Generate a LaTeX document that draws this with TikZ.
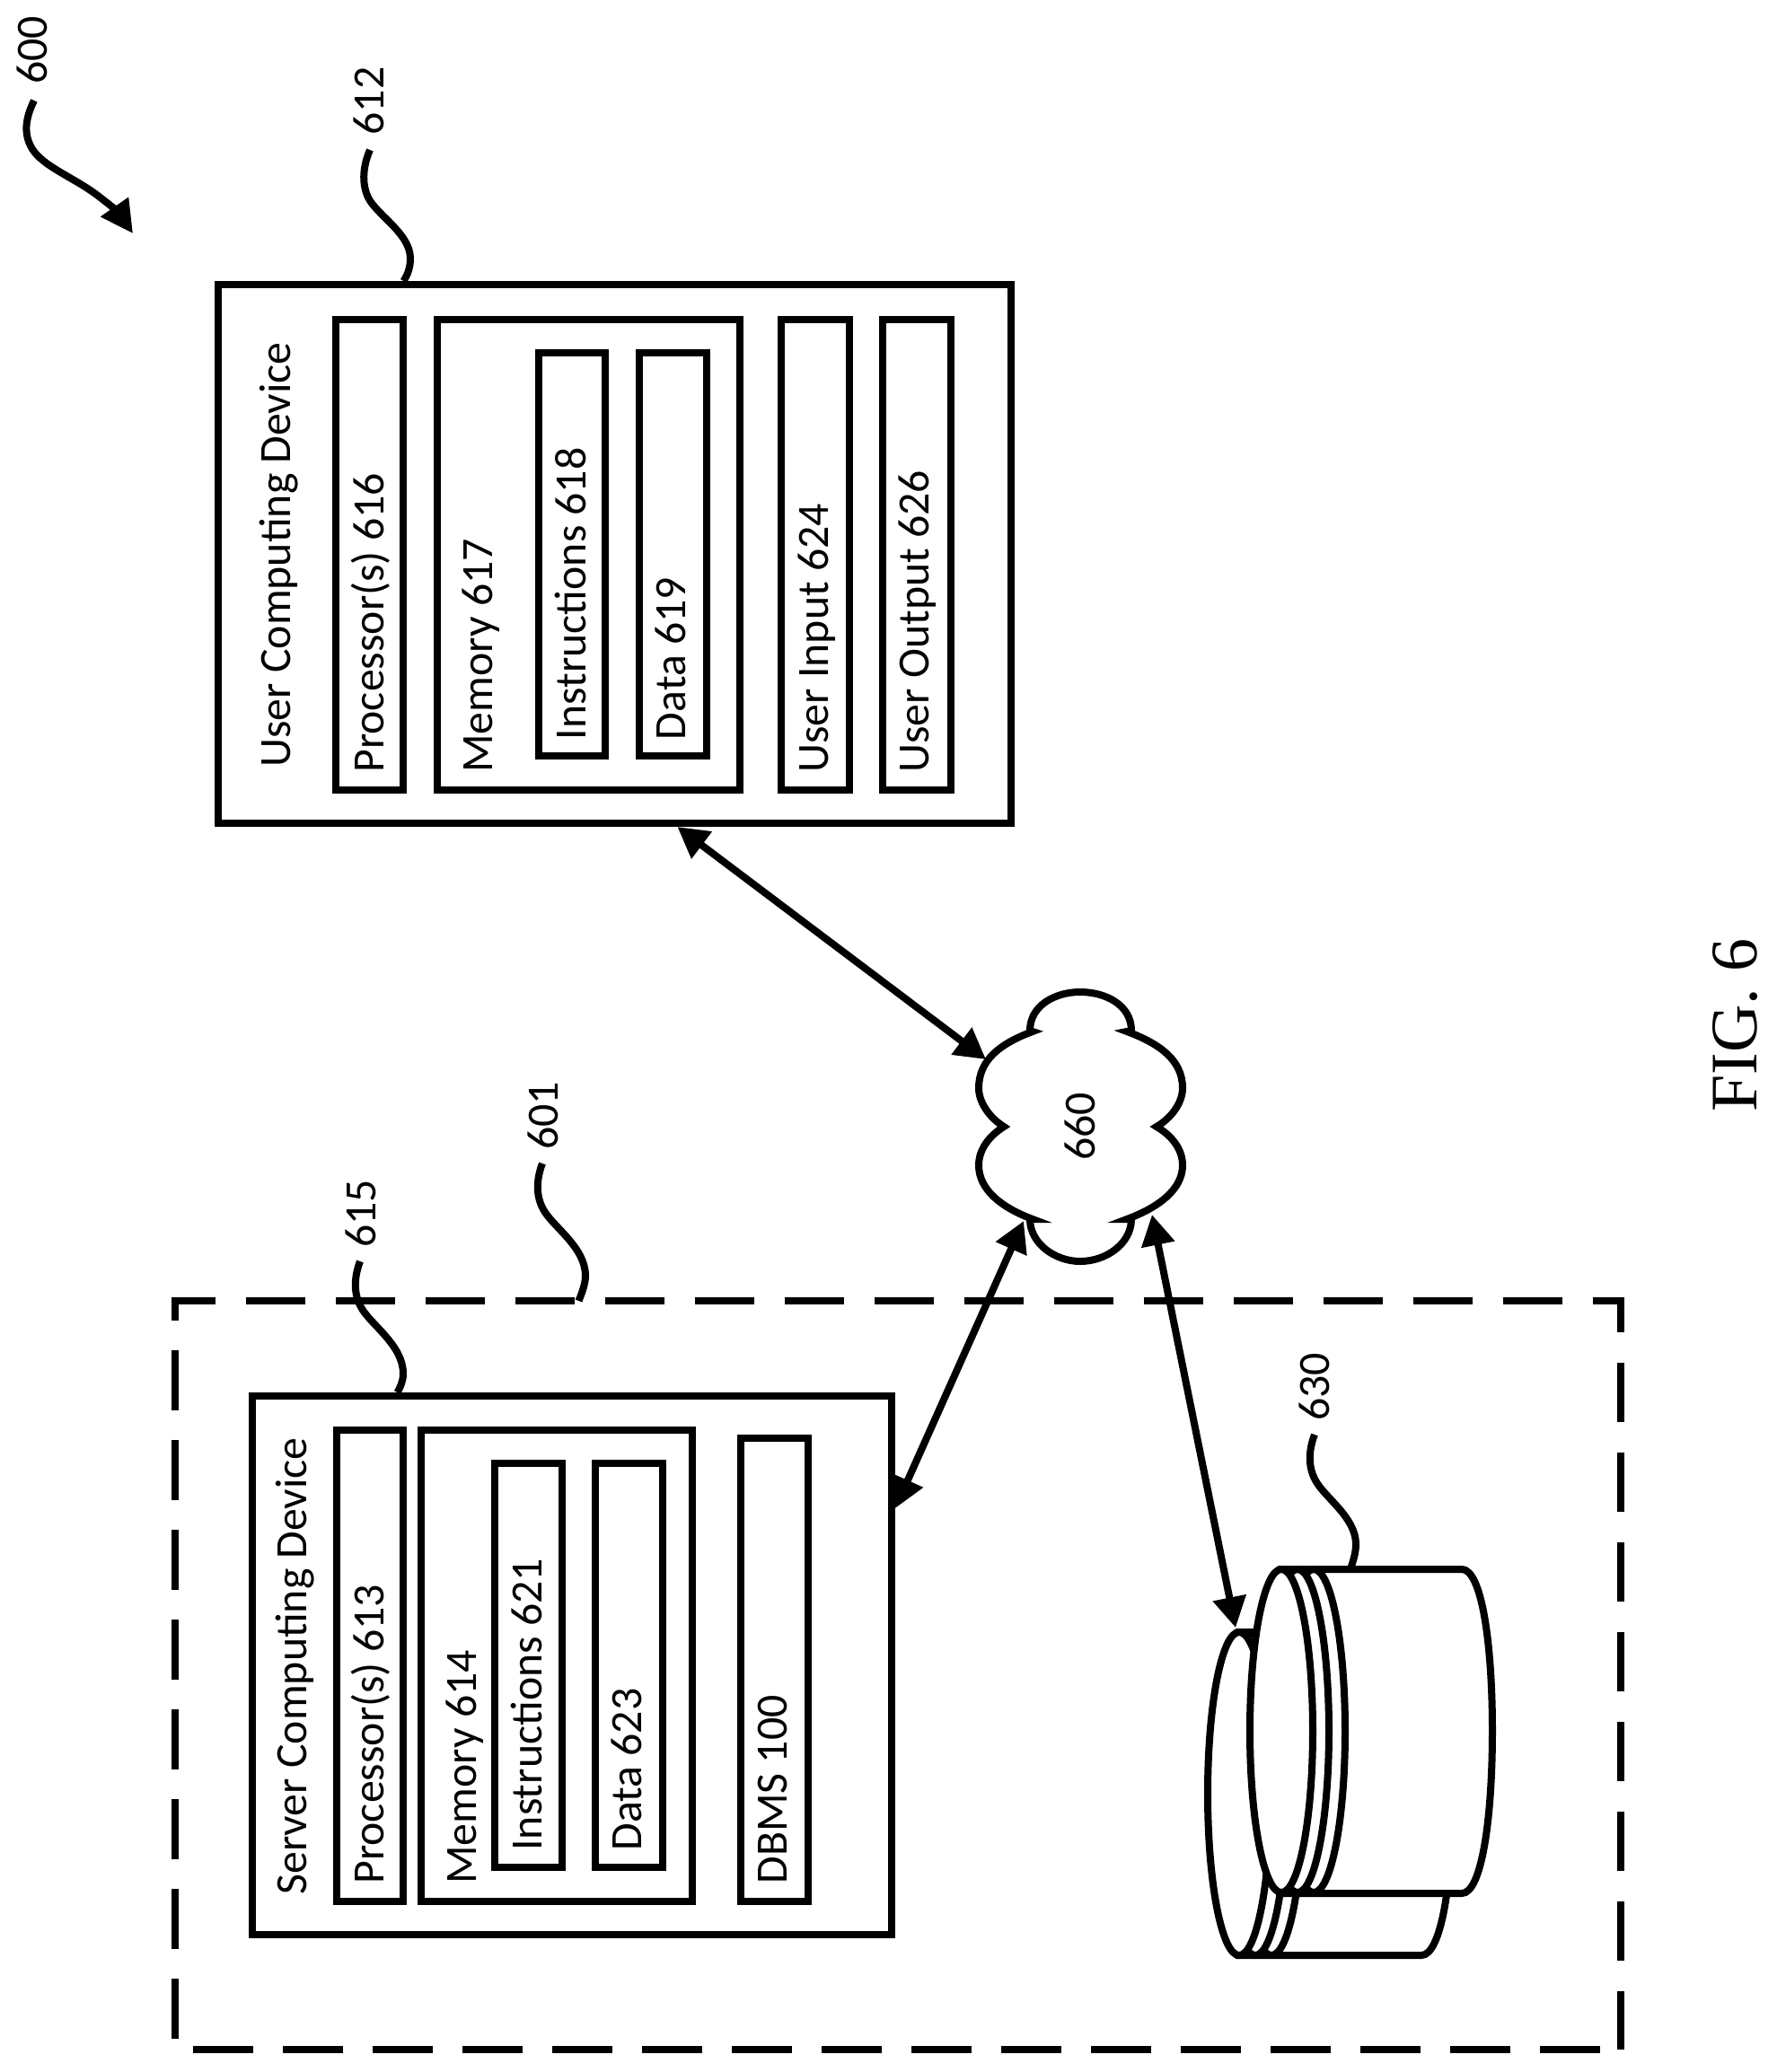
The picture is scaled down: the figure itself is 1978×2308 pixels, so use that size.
\documentclass[tikz,border=0pt]{standalone}
\usepackage{fontspec}
\setmainfont{Carlito}
\newfontfamily\figfont{Liberation Serif}
\usetikzlibrary{arrows.meta,calc,fit}
\tikzset{
  x=0.5pt,y=-0.5pt,
  box/.style={draw=black,line width=4pt,fill=white,inner sep=0pt,line join=miter},
  lbl/.style={rotate=90,anchor=base west,inner sep=0pt,font=\fontsize{24.9}{25}\selectfont},
  num/.style={rotate=90,inner sep=0pt,font=\fontsize{24.9}{25}\selectfont},
  lead/.style={draw=black,line width=4pt},
  link/.style={draw=black,line width=4pt,{Triangle[length=17pt,width=18pt]}-{Triangle[length=17pt,width=18pt]}},
  shell/.style={draw=black,line width=4pt,fill=white},
  dashline/.style={draw=black,line width=4pt,dash pattern=on 33.4pt off 16.6pt},
}
\begin{document}
\begin{tikzpicture}
\useasboundingbox (0,0) rectangle (1978,2308);
% dashed system boundary
\node[inner sep=0pt,outer sep=0pt,fit={(194.5,1449)(1805,2283)}] (sys) {};
\draw[dashline] ($(sys.north west)+(0,21)$) -- (sys.north west) -- (sys.north east) -- (sys.south east);
\draw[dashline,dash phase=38.5pt] (sys.south east) -- (sys.south west) -- ($(sys.north west)+(0,21)$);
% user computing device
\node[box,fit={(243.4,317)(1126,917)}] (user) {};
\node[box,fit={(374.4,355.5)(449,880)}] (p616) {};
\node[box,fit={(486.8,355.5)(824,880)}] (m617) {};
\node[box,fit={(599.8,392.6)(674,842)}] (i618) {};
\node[box,fit={(712,392.6)(787,842)}] (d619) {};
\node[box,fit={(870,355.5)(946,880)}] (in624) {};
\node[box,fit={(983,355.5)(1059,880)}] (out626) {};
\node[lbl] (tUser) at (323.8,855) {User Computing Device};
\node[lbl] (t616) at (427,861) {Processor(s) 616};
\node[lbl] (t617) at (548.8,861) {Memory 617};
\node[lbl] (t618) at (652,824.4) {Instructions 618};
\node[lbl] (t619) at (763,824.4) {Data 619};
\node[lbl] (t624) at (922.6,861) {User Input 624};
\node[lbl] (t626) at (1034.6,861) {User Output 626};
% server computing device
\node[box,fit={(280.5,1555)(993,2155)}] (server) {};
\node[box,fit={(374.5,1593)(449.4,2118)}] (p613) {};
\node[box,fit={(468.6,1593)(771,2118)}] (m614) {};
\node[box,fit={(550.7,1630)(626,2080)}] (i621) {};
\node[box,fit={(663,1630)(738,2080)}] (d623) {};
\node[box,fit={(825,1602)(900,2118)}] (dbms) {};
\node[lbl] (tServer) at (341.5,2111) {Server Computing Device};
\node[lbl] (t613) at (427.7,2099) {Processor(s) 613};
\node[lbl] (t614) at (530.7,2099) {Memory 614};
\node[lbl] (t621) at (603,2062) {Instructions 621};
\node[lbl] (t623) at (714,2062) {Data 623};
\node[lbl] (t100) at (876.5,2099) {DBMS 100};
% cloud
\draw[shell] (1118,1255)
  .. controls (1102,1245) and (1090,1228) .. (1090,1212)
  .. controls (1090,1180) and (1115,1162) .. (1150,1149)
  -- (1147,1148)
  .. controls (1147,1120) and (1175,1105) .. (1203,1105)
  .. controls (1232,1105) and (1260,1120) .. (1260,1148)
  -- (1255,1149)
  .. controls (1290,1162) and (1317,1180) .. (1317,1212)
  .. controls (1317,1228) and (1305,1245) .. (1288,1255)
  .. controls (1305,1265) and (1317,1280) .. (1317,1298)
  .. controls (1317,1325) and (1290,1345) .. (1255,1358)
  -- (1260,1358)
  .. controls (1260,1385) and (1232,1405) .. (1203,1405)
  .. controls (1175,1405) and (1147,1385) .. (1147,1358)
  -- (1150,1358)
  .. controls (1115,1345) and (1090,1325) .. (1090,1298)
  .. controls (1090,1280) and (1102,1265) .. (1118,1255) -- cycle;
\node[num] (cloud) at (1203,1255) {660};
% database
\draw[shell] (1380,1818) -- (1583,1818) .. controls (1605,1818) and (1618,1900) .. (1618,1998)
  .. controls (1618,2096) and (1605,2178) .. (1583,2178) -- (1380,2178) -- cycle;
\draw[shell] (1416,1998) ellipse [x radius=35,y radius=180];
\draw[shell] (1398,1998) ellipse [x radius=35,y radius=180];
\draw[shell] (1380,1998) ellipse [x radius=35,y radius=180];
\draw[shell] (1427,1748) -- (1628,1748) .. controls (1650,1748) and (1662,1830) .. (1662,1928)
  .. controls (1662,2026) and (1650,2109) .. (1628,2109) -- (1427,2109) -- cycle;
\draw[shell] (1463,1928) ellipse [x radius=35,y radius=180];
\draw[shell] (1445,1928) ellipse [x radius=35,y radius=180];
\draw[shell] (1427,1928) ellipse [x radius=35,y radius=180];
\coordinate (db) at (1376,1813);
\coordinate (dbTop) at (1504,1748);
% connectors
\draw[link] ($(user.south west)+(515,0)$) -- ($(cloud)+(-105,-75)$);
\draw[link] ($(cloud)+(-63,105)$) -- ($(server.south east)+(0,-479)$);
\draw[link] ($(cloud)+(80,98)$) -- (db);
% leaders
\coordinate (e600) at (148,260);
\node[num] (n600) at (36,56) {600};
\draw[lead,-{Triangle[length=18pt,width=18pt]}] (38,112) .. controls (28,132) and (26,150) .. (36,166)
  .. controls (48,185) and (80,197) .. (105,215)
  .. controls (115,222) and (132,237) .. (e600);
\node[num] (n612) at (411,112.5) {612};
\draw[lead] (412,167) .. controls (405,183) and (402,203) .. (410,220)
  .. controls (420,240) and (457,260) .. (457,288)
  .. controls (457,298) and (454,306) .. ($(user.north west)+(210,0)$);
\node[num] (n601) at (605,1243) {601};
\draw[lead] (604,1296) .. controls (599,1309) and (595,1329) .. (605,1347)
  .. controls (615,1366) and (652,1389) .. (652,1421)
  .. controls (652,1429) and (649,1438) .. ($(sys.north west)+(450,0)$);
\node[num] (n615) at (402,1352) {615};
\draw[lead] (401,1405) .. controls (396,1418) and (392,1438) .. (402,1456)
  .. controls (412,1475) and (449,1498) .. (449,1530)
  .. controls (449,1538) and (446,1545) .. ($(server.north west)+(166,0)$);
\node[num] (n630) at (1464,1545) {630};
\draw[lead] (1464,1598) .. controls (1459,1611) and (1455,1631) .. (1465,1649)
  .. controls (1475,1668) and (1510,1690) .. (1510,1720)
  .. controls (1510,1730) and (1507,1738) .. (dbTop);
\node[rotate=90,inner sep=0pt,font=\figfont\fontsize{37}{37}\selectfont] (fig) at (1932.6,1142) {FIG. 6};
\end{tikzpicture}
\end{document}
